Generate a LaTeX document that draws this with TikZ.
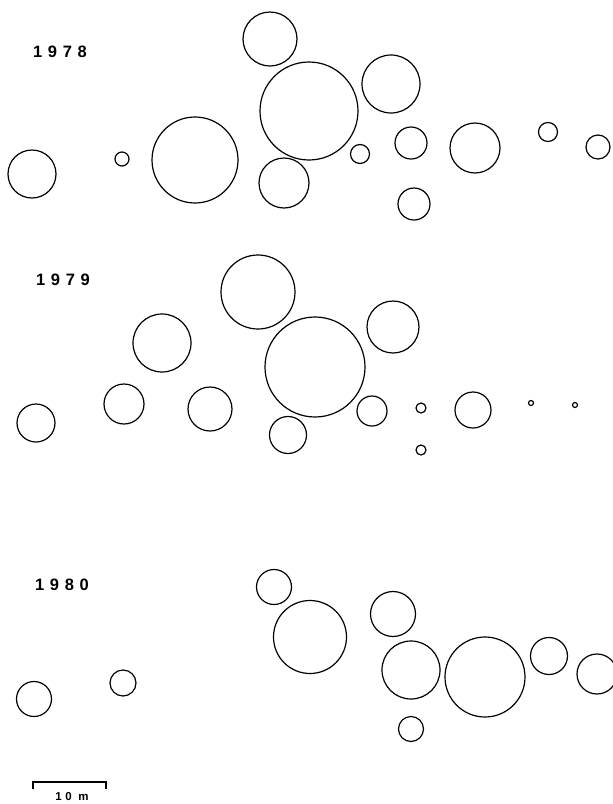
\documentclass[tikz,border=0pt]{standalone}
\usepackage{fontspec}
\setmainfont{Liberation Sans}
\tikzset{
  yearlabel/.style={anchor=west,inner sep=0pt,font=\fontsize{16.5}{16.5}\selectfont\bfseries\addfontfeatures{LetterSpace=34}},
  patch/.style={line width=1.2pt}
}
\begin{document}
\begin{tikzpicture}[x=1pt,y=-1pt]
\useasboundingbox (0,0) rectangle (613,804);
\clip (0,0) rectangle (613,804);
% 1978
\node[yearlabel] (y78) at (33,52) {1978};
\foreach \x/\y/\r in {32/174/24,122/159/7,195/160/43,270/39/27,309/111/49,284/183/25,
  360/154/9.5,391/84/29,411/143/16,414/204/16,475/148/25,548/132/9.5,598/147/12}
  \draw[patch] (\x,\y) circle (\r);
% 1979
\node[yearlabel] (y79) at (36,280) {1979};
\foreach \x/\y/\r in {36/423/19,124/404/20,162/343/29,210/409/22,258/292/37,288/435/18.5,
  315/367/50,372/411/15,393/327/26,421/408/5,421/450/5,473/410/18,531/403/2.5,575/405/2.5}
  \draw[patch] (\x,\y) circle (\r);
% 1980
\node[yearlabel] (y80) at (35,585) {1980};
\foreach \x/\y/\r in {34/699/17.5,123/683/13,274/587/17.5,310/637/36.5,393/614/22.5,
  411/670/29,411/729/12.5,485/677/40,549/656/18.5,597/674/20}
  \draw[patch] (\x,\y) circle (\r);
% scale bar
\coordinate (s0) at (33,782);
\coordinate (s1) at (106,782);
\draw[line width=1.6pt] ([yshift=-7pt]s0) -- (s0) -- (s1) -- ([yshift=-7pt]s1);
\node[font=\fontsize{11.5}{11.5}\selectfont\bfseries\addfontfeatures{LetterSpace=30},inner sep=0pt] (bar) at (72,797) {10 m};
\end{tikzpicture}
\end{document}
